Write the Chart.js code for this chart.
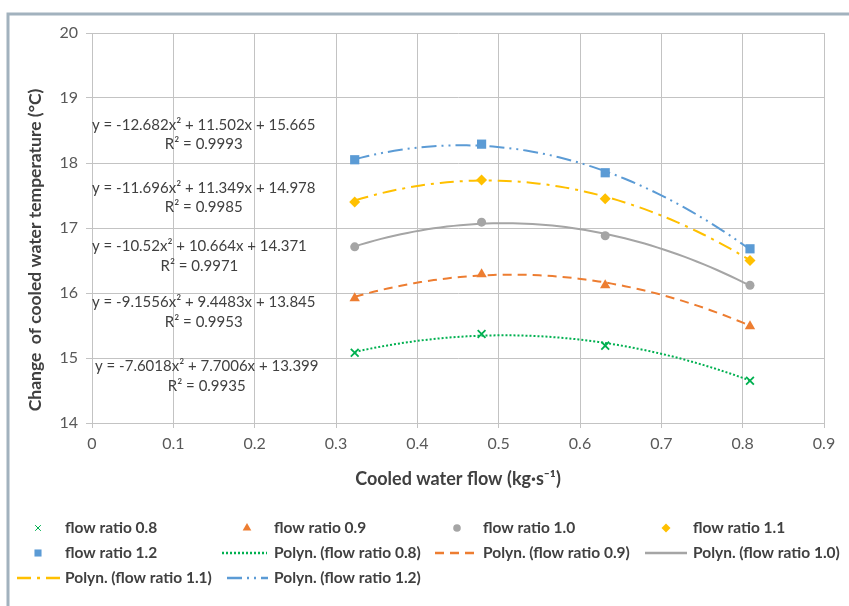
<!DOCTYPE html>
<html>
<head>
<meta charset="utf-8">
<script src="https://cdn.jsdelivr.net/npm/chart.js@4.4.1/dist/chart.umd.min.js"></script>
<style>
  html, body { margin: 0; padding: 0; background: #ffffff; }
  #wrap { position: relative; width: 849px; height: 606px; }
  canvas { display: block; }
</style>
</head>
<body>
<div id="wrap"><canvas id="c" width="849" height="606"></canvas></div>
<script>
// ---- data ----
const flowX = [0.323, 0.479, 0.631, 0.809];          // cooled water flow (kg/s)
const ratio08 = [15.08, 15.37, 15.19, 14.65];
const ratio09 = [15.92, 16.29, 16.12, 15.49];
const ratio10 = [16.71, 17.09, 16.88, 16.12];
const ratio11 = [17.40, 17.74, 17.45, 16.50];
const ratio12 = [18.05, 18.29, 17.85, 16.68];
const seriesNames = ['flow ratio 0.8', 'flow ratio 0.9', 'flow ratio 1.0', 'flow ratio 1.1', 'flow ratio 1.2'];
// trendline coefficients (a, b, c) as printed on the chart: y = a x^2 + b x + c
const coef08 = [-7.6018, 7.7006, 13.399];
const coef09 = [-9.1556, 9.4483, 13.845];
const coef10 = [-10.52, 10.664, 14.371];
const coef11 = [-11.696, 11.349, 14.978];
const coef12 = [-12.682, 11.502, 15.665];
const eqLabels = [
  'y = -12.682x² + 11.502x + 15.665',
  'y = -11.696x² + 11.349x + 14.978',
  'y = -10.52x² + 10.664x + 14.371',
  'y = -9.1556x² + 9.4483x + 13.845',
  'y = -7.6018x² + 7.7006x + 13.399'
];
const r2Labels = ['R² = 0.9993', 'R² = 0.9985', 'R² = 0.9971', 'R² = 0.9953', 'R² = 0.9935'];
const xTitle = 'Cooled water flow (kg·s⁻¹)';
const yTitle = 'Change  of cooled water temperature (°C)';

// ---- styles ----
const colors = ['#00b050', '#ed7d31', '#a5a5a5', '#ffc000', '#5b9bd5'];
const pointStyles = ['crossRot', 'triangle', 'circle', 'rectRot', 'rect'];
const pointRadii = [5.5, 6, 4.5, 5.5, 6.5];
const dashes = [[2, 2], [9, 6], [], [14, 6, 3, 6], [15, 5, 2, 5, 2, 5]];
const FONT = 'Lato, "Open Sans", sans-serif';

const seriesY = [ratio08, ratio09, ratio10, ratio11, ratio12];
const coefs = [coef08, coef09, coef10, coef11, coef12];

function toPts(ys) { return flowX.map((x, i) => ({ x: x, y: ys[i] })); }
function trend(c) {
  // Sample the printed trendline equation over the data range
  const pts = [];
  const x0 = flowX[0], x1 = flowX[flowX.length - 1], n = 60;
  for (let k = 0; k <= n; k++) {
    const x = x0 + (x1 - x0) * k / n;
    pts.push({ x: x, y: c[0] * x * x + c[1] * x + c[2] });
  }
  return pts;
}

const datasets = [];
seriesY.forEach((ys, i) => {
  datasets.push({
    label: seriesNames[i],
    data: toPts(ys),
    showLine: false,
    pointStyle: pointStyles[i],
    pointRadius: pointRadii[i],
    pointBackgroundColor: colors[i],
    pointBorderColor: colors[i],
    pointBorderWidth: i === 0 ? 1.8 : 0,
    order: 1
  });
});
coefs.forEach((c, i) => {
  datasets.push({
    label: 'Polyn. (' + seriesNames[i] + ')',
    data: trend(c),
    showLine: true,
    borderColor: colors[i],
    borderWidth: 2,
    borderDash: dashes[i],
    pointRadius: 0,
    tension: 0,
    order: 2
  });
});

const legendItems = [
  // row 1
  { kind: 'pt', s: 0, x: 38, tx: 65, y: 528, text: seriesNames[0] },
  { kind: 'pt', s: 1, x: 247, tx: 274, y: 528, text: seriesNames[1] },
  { kind: 'pt', s: 2, x: 457, tx: 483, y: 528, text: seriesNames[2] },
  { kind: 'pt', s: 3, x: 666, tx: 693, y: 528, text: seriesNames[3] },
  // row 2
  { kind: 'pt', s: 4, x: 38, tx: 65, y: 553, text: seriesNames[4] },
  { kind: 'ln', s: 0, x: 222, x2: 267, tx: 274, y: 553, text: 'Polyn. (' + seriesNames[0] + ')' },
  { kind: 'ln', s: 1, x: 435, x2: 478, tx: 483, y: 553, text: 'Polyn. (' + seriesNames[1] + ')' },
  { kind: 'ln', s: 2, x: 645, x2: 687, tx: 693, y: 553, text: 'Polyn. (' + seriesNames[2] + ')' },
  // row 3
  { kind: 'ln', s: 3, x: 17, x2: 60, tx: 65, y: 578, text: 'Polyn. (' + seriesNames[3] + ')' },
  { kind: 'ln', s: 4, x: 227, x2: 268, tx: 274, y: 578, text: 'Polyn. (' + seriesNames[4] + ')' }
];
const legendRadii = [4, 5, 3.8, 4.5, 5];

// equation label placement (left x of first line, centre y of both lines)
const eqPos = [
  { x: 92, y1: 125, y2: 144 },
  { x: 92, y1: 188, y2: 207 },
  { x: 92, y1: 246, y2: 266 },
  { x: 92, y1: 302, y2: 322 },
  { x: 95, y1: 366, y2: 386 }
];

const decor = {
  id: 'decor',
  beforeDraw(chart) {
    const ctx = chart.ctx;
    ctx.save();
    ctx.fillStyle = '#ffffff';
    ctx.fillRect(0, 0, chart.width, chart.height);
    ctx.strokeStyle = '#a2b2be';
    ctx.lineWidth = 3;
    ctx.beginPath();
    ctx.moveTo(8, 606);
    ctx.lineTo(8, 14);
    ctx.lineTo(849, 14);
    ctx.stroke();
    ctx.restore();
  },
  afterDraw(chart) {
    const ctx = chart.ctx;
    const ca = chart.chartArea;
    ctx.save();
    // axis titles
    ctx.fillStyle = '#404040';
    ctx.font = 'bold 18px ' + FONT;
    ctx.textAlign = 'center';
    ctx.textBaseline = 'middle';
    ctx.fillText(xTitle, (ca.left + ca.right) / 2, 479);
    ctx.save();
    ctx.font = 'bold 17.5px ' + FONT;
    ctx.translate(35, 250);
    ctx.rotate(-Math.PI / 2);
    ctx.fillText(yTitle, 0, 0);
    ctx.restore();

    // trendline equations
    ctx.font = '15px ' + FONT;
    ctx.fillStyle = '#404040';
    eqLabels.forEach((t, i) => {
      const p = eqPos[i];
      const w = ctx.measureText(t).width;
      ctx.textAlign = 'left';
      ctx.fillText(t, p.x, p.y1);
      ctx.textAlign = 'center';
      ctx.fillText(r2Labels[i], p.x + w / 2, p.y2);
    });

    // legend
    legendItems.forEach(it => {
      const col = colors[it.s];
      if (it.kind === 'pt') {
        ctx.fillStyle = col;
        ctx.strokeStyle = col;
        Chart.helpers.drawPoint(ctx, {
          pointStyle: pointStyles[it.s],
          radius: legendRadii[it.s],
          rotation: 0,
          borderWidth: it.s === 0 ? 1.6 : 0
        }, it.x, it.y);
      } else {
        ctx.save();
        ctx.strokeStyle = col;
        ctx.lineWidth = 2.5;
        ctx.setLineDash(dashes[it.s]);
        ctx.beginPath();
        ctx.moveTo(it.x, it.y);
        ctx.lineTo(it.x2, it.y);
        ctx.stroke();
        ctx.restore();
      }
      ctx.fillStyle = '#404040';
      ctx.font = 'bold 15.5px ' + FONT;
      ctx.textAlign = 'left';
      ctx.textBaseline = 'middle';
      ctx.fillText(it.text, it.tx, it.y);
    });
    ctx.restore();
  }
};

const gridColor = '#c3c3c3';
new Chart(document.getElementById('c'), {
  type: 'scatter',
  data: { datasets: datasets },
  options: {
    responsive: false,
    animation: false,
    devicePixelRatio: 1,
    layout: { padding: { left: 0, right: 25, top: 33, bottom: 0 } },
    plugins: { legend: { display: false }, tooltip: { enabled: false } },
    scales: {
      x: {
        type: 'linear',
        min: 0, max: 0.9,
        afterFit(s) { s.height = 606 - 423; },
        ticks: {
          stepSize: 0.1,
          color: '#595959',
          font: { family: FONT, size: 16 },
          padding: 6,
          callback: v => String(Math.round(v * 10) / 10)
        },
        grid: { color: gridColor, lineWidth: 1, tickLength: 5, drawTicks: true, tickColor: gridColor },
        border: { color: gridColor, width: 1 }
      },
      y: {
        type: 'linear',
        min: 14, max: 20,
        afterFit(s) { s.width = 92; },
        ticks: {
          stepSize: 1,
          color: '#595959',
          font: { family: FONT, size: 16 },
          padding: 8
        },
        grid: { color: gridColor, lineWidth: 1, tickLength: 6, drawTicks: true, tickColor: gridColor },
        border: { color: gridColor, width: 1 }
      }
    }
  },
  plugins: [decor]
});
</script>
</body>
</html>
